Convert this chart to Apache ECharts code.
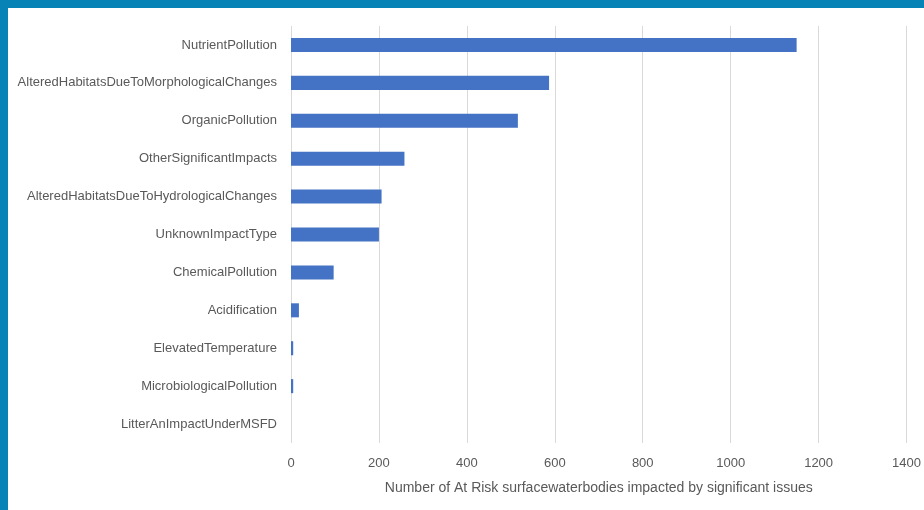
<!DOCTYPE html>
<html>
<head>
<meta charset="utf-8">
<script src="https://cdn.jsdelivr.net/npm/echarts@6/dist/echarts.min.js"></script>
<style>
html,body{margin:0;padding:0;background:#fff;}
#c{width:924px;height:510px;}
</style>
</head>
<body>
<div id="c"></div>
<script>
const categories = [
  "NutrientPollution",
  "AlteredHabitatsDueToMorphologicalChanges",
  "OrganicPollution",
  "OtherSignificantImpacts",
  "AlteredHabitatsDueToHydrologicalChanges",
  "UnknownImpactType",
  "ChemicalPollution",
  "Acidification",
  "ElevatedTemperature",
  "MicrobiologicalPollution",
  "LitterAnImpactUnderMSFD"
];
const values = [1150, 587, 516, 258, 206, 200, 97, 18, 5, 5, 0];
const xTicks = [0, 200, 400, 600, 800, 1000, 1200, 1400];
const xAxisName = "Number of At Risk surfacewaterbodies impacted by significant issues";

const chart = echarts.init(document.getElementById('c'));
const font = "'Liberation Sans', Arial, sans-serif";
chart.setOption({
  backgroundColor: '#ffffff',
  animation: false,
  graphic: [
    {type:'rect', left:0, top:0, shape:{width:924, height:8}, style:{fill:'#0783b6'}},
    {type:'rect', left:0, top:0, shape:{width:8, height:510}, style:{fill:'#0783b6'}}
  ],
  grid: {left: 291, right: 14, top: 26, bottom: 67, containLabel: false},
  xAxis: {
    type: 'value',
    min: xTicks[0],
    max: xTicks[xTicks.length-1],
    interval: 200,
    name: xAxisName,
    nameLocation: 'middle',
    nameGap: 38,
    nameTextStyle: {color:'#595959', fontSize:14, fontFamily:font},
    axisLine: {show:false},
    axisTick: {show:false},
    axisLabel: {color:'#595959', fontSize:13, fontFamily:font, margin:14,
      formatter: function(v){ return String(v); }},
    splitLine: {show:true, lineStyle:{color:'#d9d9d9', width:1}}
  },
  yAxis: {
    type: 'category',
    inverse: true,
    data: categories,
    axisLine: {show:false},
    axisTick: {show:false},
    axisLabel: {color:'#595959', fontSize:13, fontFamily:font, margin:14}
  },
  series: [{
    type: 'bar',
    data: values,
    barWidth: '37%',
    itemStyle: {color:'#4472c4'}
  }]
});
</script>
</body>
</html>
